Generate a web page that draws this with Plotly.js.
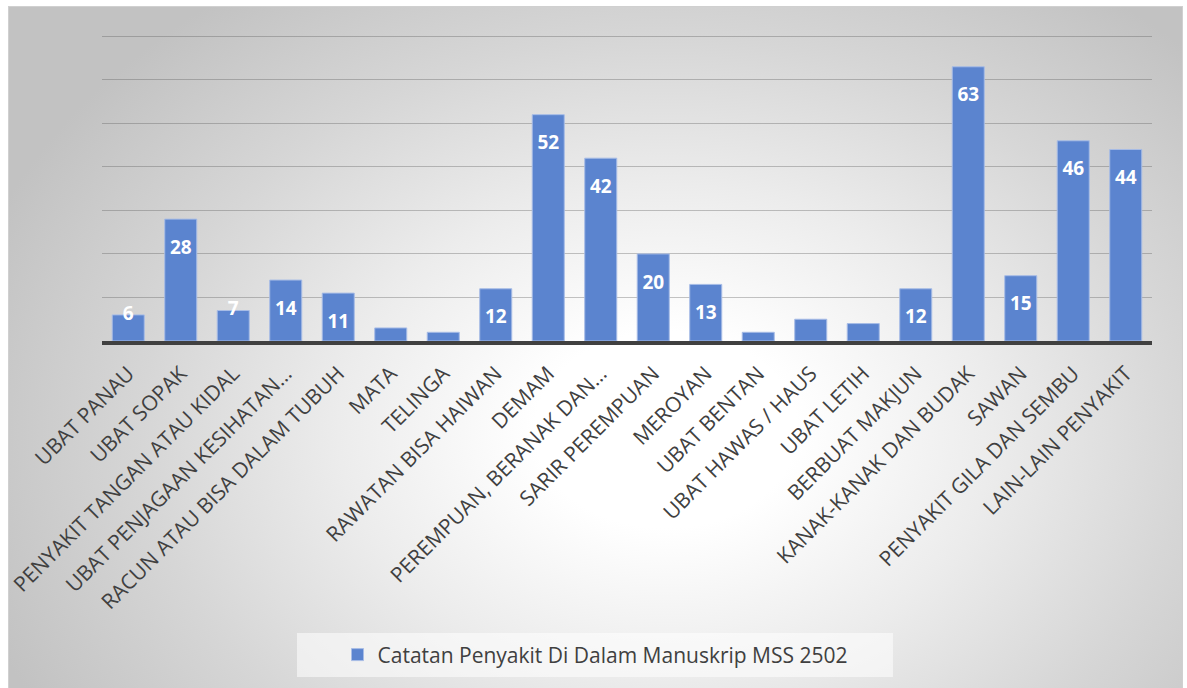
<!DOCTYPE html>
<html>
<head>
<meta charset="utf-8">
<script src="https://cdn.plot.ly/plotly-3.0.1.min.js"></script>
<style>
  html, body { margin: 0; padding: 0; background: #ffffff; width: 1187px; height: 688px; overflow: hidden; }
  #bg { position: absolute; left: 8px; top: 6px; width: 1175px; height: 684px;
        background: radial-gradient(ellipse 62% 80% at 56% 62%, #ffffff 0%, #ffffff 18%, #ececec 45%, #d6d6d6 72%, #c2c2c2 100%);
        border: 1px solid #d0d0d0; box-sizing: border-box; }
  #chart { position: absolute; left: 0; top: 0; width: 1187px; height: 688px; }
</style>
</head>
<body>
<div id="bg"></div>
<div id="chart"></div>
<script>
const categories = [
  "UBAT PANAU", "UBAT SOPAK", "PENYAKIT TANGAN ATAU KIDAL", "UBAT PENJAGAAN KESIHATAN…",
  "RACUN ATAU BISA DALAM TUBUH", "MATA", "TELINGA", "RAWATAN BISA HAIWAN", "DEMAM",
  "PEREMPUAN, BERANAK DAN…", "SARIR PEREMPUAN", "MEROYAN", "UBAT BENTAN", "UBAT HAWAS / HAUS",
  "UBAT LETIH", "BERBUAT MAKJUN", "KANAK-KANAK DAN BUDAK", "SAWAN", "PENYAKIT GILA DAN SEMBU",
  "LAIN-LAIN PENYAKIT"
];
const values = [6, 28, 7, 14, 11, 3, 2, 12, 52, 42, 20, 13, 2, 5, 4, 12, 63, 15, 46, 44];
const seriesName = "Catatan Penyakit Di Dalam Manuskrip MSS 2502";

const labelText = values.map(v => v >= 6 ? String(v) : "");
const labelPos = values.map(v => v < 10 ? "middle center" : "bottom center");

const bars = {
  type: "bar",
  x: categories,
  y: values,
  name: seriesName,
  marker: { color: "#5b84cf", line: { color: "#a7bce6", width: 1 } },
  hoverinfo: "x+y"
};

const labels = {
  type: "scatter",
  mode: "markers+text",
  x: categories,
  y: values,
  text: labelText,
  textposition: labelPos,
  textfont: { family: "Open Sans", size: 19, color: "#ffffff", weight: "bold" },
  marker: { size: 31, opacity: 0 },
  showlegend: false,
  hoverinfo: "skip",
  cliponaxis: false
};

const layout = {
  width: 1187,
  height: 688,
  paper_bgcolor: "rgba(0,0,0,0)",
  plot_bgcolor: "rgba(0,0,0,0)",
  margin: { l: 102, r: 35, t: 35, b: 347, pad: 0 },
  bargap: 0.39,
  font: { family: "Open Sans", color: "#404040" },
  showlegend: true,
  legend: {
    orientation: "h",
    x: 0.470, xanchor: "center",
    y: -1.026, yanchor: "middle",
    font: { family: "Open Sans", size: 21, color: "#404040" },
    bgcolor: "rgba(0,0,0,0)"
  },
  xaxis: {
    type: "category",
    range: [-0.5, categories.length - 0.5],
    tickangle: -45,
    tickfont: { family: "Open Sans", size: 21, color: "#404040" },
    ticklabelstandoff: 8,
    showline: true,
    linecolor: "#404040",
    linewidth: 4,
    ticks: "",
    showgrid: false,
    automargin: false,
    fixedrange: true
  },
  yaxis: {
    range: [0, 70.3],
    dtick: 10,
    showticklabels: false,
    showgrid: true,
    gridcolor: "rgba(90,90,90,0.35)",
    gridwidth: 1,
    zeroline: false,
    showline: false,
    ticks: "",
    fixedrange: true
  },
  shapes: [{
    type: "rect", xref: "paper", yref: "paper",
    x0: 0.1857, x1: 0.7533, y0: -1.098, y1: -0.954,
    fillcolor: "rgba(255,255,255,0.55)", line: { width: 0 }, layer: "below"
  }]
};

Plotly.newPlot("chart", [bars, labels], layout, { displayModeBar: false, staticPlot: true });
</script>
</body>
</html>
